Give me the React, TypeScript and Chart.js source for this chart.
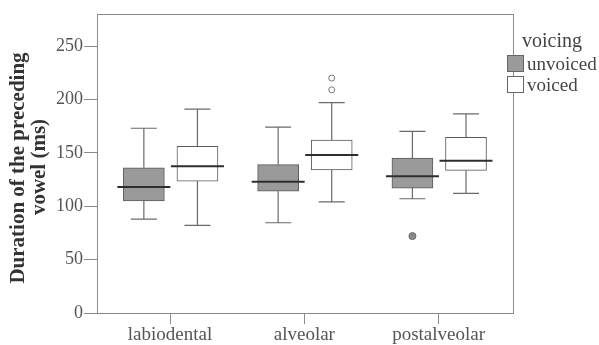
import React, { useEffect, useRef } from "react";
import { Chart, registerables } from "chart.js";

Chart.register(...registerables);

const categories = ["labiodental", "alveolar", "postalveolar"];
const seriesNames = ["unvoiced", "voiced"];

const unvoicedMin = [88, 84.5, 107];
const unvoicedQ1 = [105, 114, 117];
const unvoicedMedian = [118, 123, 128];
const unvoicedQ3 = [136, 139, 145];
const unvoicedMax = [173, 174, 170];
const unvoicedOutliers: number[][] = [[], [], [72]];

const voicedMin = [82, 104, 112];
const voicedQ1 = [123.5, 134, 133.5];
const voicedMedian = [137.5, 148, 142.5];
const voicedQ3 = [156, 162, 164.5];
const voicedMax = [191, 197, 186.5];
const voicedOutliers: number[][] = [[], [220, 209], []];

const yTicks = [0, 50, 100, 150, 200, 250];

const OFFSET_U = -0.195;
const OFFSET_V = 0.204;
const FONT = "'Liberation Serif', 'Times New Roman', serif";

export default function App() {
  const ref = useRef<HTMLCanvasElement | null>(null);

  useEffect(() => {
    if (!ref.current) return;

    const boxes = [
      { off: OFFSET_U, min: unvoicedMin, med: unvoicedMedian, max: unvoicedMax, q1: unvoicedQ1, q3: unvoicedQ3 },
      { off: OFFSET_V, min: voicedMin, med: voicedMedian, max: voicedMax, q1: voicedQ1, q3: voicedQ3 },
    ];

    const boxPlugin = {
      id: "boxExtras",
      beforeDatasetsDraw(chart: any) {
        const { ctx, chartArea: a, scales } = chart;
        const xs = scales.x;
        const ys = scales.y;
        ctx.save();
        ctx.strokeStyle = "#8a8a8a";
        ctx.lineWidth = 1;
        ctx.strokeRect(a.left + 0.5, a.top + 0.5, a.right - a.left, a.bottom - a.top);
        ctx.strokeStyle = "#6a6a6a";
        ctx.lineWidth = 1.2;
        boxes.forEach((b) => {
          categories.forEach((_, i) => {
            const x = xs.getPixelForValue(i + b.off);
            const yMin = ys.getPixelForValue(b.min[i]);
            const yMax = ys.getPixelForValue(b.max[i]);
            const yq1 = ys.getPixelForValue(b.q1[i]);
            const yq3 = ys.getPixelForValue(b.q3[i]);
            ctx.beginPath();
            ctx.moveTo(x, yq1);
            ctx.lineTo(x, yMin);
            ctx.moveTo(x - 13, yMin);
            ctx.lineTo(x + 13, yMin);
            ctx.moveTo(x, yq3);
            ctx.lineTo(x, yMax);
            ctx.moveTo(x - 13, yMax);
            ctx.lineTo(x + 13, yMax);
            ctx.stroke();
          });
        });
        ctx.restore();
      },
      afterDatasetsDraw(chart: any) {
        const { ctx, scales } = chart;
        const xs = scales.x;
        const ys = scales.y;
        ctx.save();
        ctx.strokeStyle = "#2e2e2e";
        ctx.lineWidth = 2;
        boxes.forEach((b) => {
          categories.forEach((_, i) => {
            const x = xs.getPixelForValue(i + b.off);
            const y = ys.getPixelForValue(b.med[i]);
            ctx.beginPath();
            ctx.moveTo(x - 26.5, y);
            ctx.lineTo(x + 26.5, y);
            ctx.stroke();
          });
        });
        ctx.restore();
      },
      afterDraw(chart: any) {
        const { ctx, chartArea: a } = chart;
        ctx.save();
        ctx.fillStyle = "#333";
        ctx.font = `bold 21px ${FONT}`;
        ctx.textAlign = "center";
        ctx.textBaseline = "middle";
        ctx.save();
        ctx.translate(19, 168);
        ctx.rotate(-Math.PI / 2);
        ctx.fillText("Duration of the preceding", 0, 0);
        ctx.restore();
        ctx.save();
        ctx.translate(40, 167);
        ctx.rotate(-Math.PI / 2);
        ctx.fillText("vowel (ms)", 0, 0);
        ctx.restore();
        const lx = a.right - 6;
        ctx.textAlign = "left";
        ctx.textBaseline = "alphabetic";
        ctx.fillStyle = "#444";
        ctx.font = `20px ${FONT}`;
        ctx.fillText("voicing", lx + 15, 47);
        ctx.font = `19px ${FONT}`;
        const fills = ["#9a9a9a", "#ffffff"];
        seriesNames.forEach((n, i) => {
          const top = 55 + i * 21;
          ctx.fillStyle = fills[i];
          ctx.fillRect(lx, top, 16, 16);
          ctx.strokeStyle = "#666";
          ctx.lineWidth = 1;
          ctx.strokeRect(lx + 0.5, top + 0.5, 16, 16);
          ctx.fillStyle = "#444";
          ctx.fillText(n, lx + 20, top + 15);
        });
        ctx.restore();
      },
    };

    const chart = new Chart(ref.current, {
      type: "scatter",
      data: {
        datasets: [
          {
            type: "bar",
            label: seriesNames[0],
            data: categories.map((_, i) => ({ x: i + OFFSET_U, y: [unvoicedQ1[i], unvoicedQ3[i]] })) as any,
            backgroundColor: "#9a9a9a",
            borderColor: "#5a5a5a",
            borderWidth: 1,
            borderSkipped: false,
            barThickness: 41,
            grouped: false,
          } as any,
          {
            type: "bar",
            label: seriesNames[1],
            data: categories.map((_, i) => ({ x: i + OFFSET_V, y: [voicedQ1[i], voicedQ3[i]] })) as any,
            backgroundColor: "#ffffff",
            borderColor: "#5a5a5a",
            borderWidth: 1,
            borderSkipped: false,
            barThickness: 41,
            grouped: false,
          } as any,
          {
            type: "scatter",
            label: "outU",
            data: unvoicedOutliers.flatMap((arr, i) => arr.map((v) => ({ x: i + OFFSET_U, y: v }))),
            pointRadius: 3.5,
            pointBackgroundColor: "#8a8a8a",
            pointBorderColor: "#666",
            pointBorderWidth: 1,
          } as any,
          {
            type: "scatter",
            label: "outV",
            data: voicedOutliers.flatMap((arr, i) => arr.map((v) => ({ x: i + OFFSET_V, y: v }))),
            pointRadius: 3,
            pointBackgroundColor: "#ffffff",
            pointBorderColor: "#777",
            pointBorderWidth: 1,
          } as any,
        ],
      },
      options: {
        animation: false,
        responsive: true,
        maintainAspectRatio: false,
        layout: { padding: { left: 0, top: 14, right: 86, bottom: 0 } },
        plugins: { legend: { display: false }, tooltip: { enabled: false } },
        scales: {
          x: {
            type: "linear",
            offset: false,
            min: -0.544,
            max: 2.554,
            afterBuildTicks: (s: any) => {
              s.ticks = categories.map((_, i) => ({ value: i }));
            },
            afterFit: (s: any) => {
              s.height = 32;
            },
            ticks: {
              callback: (v: any) => categories[Math.round(Number(v))] ?? "",
              font: { family: FONT, size: 19 },
              color: "#555",
              padding: 0,
              maxRotation: 0,
              autoSkip: false,
            },
            grid: { display: true, offset: false, drawOnChartArea: false, drawTicks: true, tickLength: 11, color: "#8a8a8a" },
            border: { display: true, color: "#8a8a8a" },
          },
          y: {
            type: "linear",
            min: 0,
            max: 280,
            afterBuildTicks: (s: any) => {
              s.ticks = yTicks.map((v) => ({ value: v }));
            },
            afterFit: (s: any) => {
              s.width = 97;
            },
            ticks: {
              font: { family: FONT, size: 18 },
              color: "#555",
              padding: 1,
            },
            grid: { display: true, drawOnChartArea: false, drawTicks: true, tickLength: 13, color: "#8a8a8a" },
            border: { display: true, color: "#8a8a8a" },
          },
        },
      },
      plugins: [boxPlugin],
    });

    return () => chart.destroy();
  }, []);

  return (
    <div style={{ position: "fixed", left: 0, top: 0, width: 599, height: 345, background: "#fff" }}>
      <canvas ref={ref} />
    </div>
  );
}
